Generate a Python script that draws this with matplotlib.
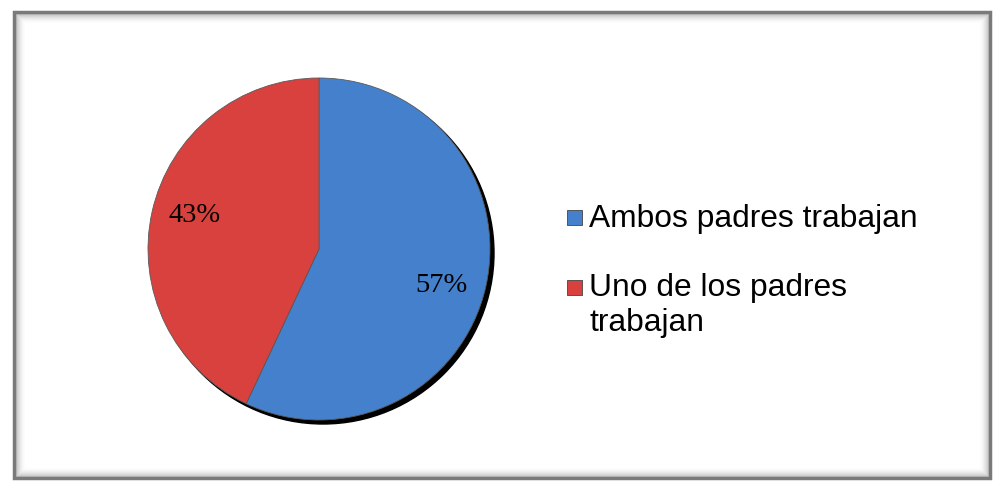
import matplotlib
matplotlib.use("Agg")
import matplotlib.pyplot as plt
from matplotlib.patches import Rectangle, Circle

categories = ["Ambos padres trabajan", "Uno de los padres\ntrabajan"]
values = [57, 43]
colors = ["#4580cc", "#d8413d"]

W, H = 997, 486
fig = plt.figure(figsize=(W / 100, H / 100), dpi=100)
ax = fig.add_axes([0, 0, 1, 1])

# frame with soft inner shadow
x0, y0, x1, y1 = 14, 8, 990, 474
for i in range(12):
    a = 0.25 * (1 - i / 12) ** 2
    ax.add_patch(Rectangle((x0 + i, y0 + i), (x1 - x0) - 2 * i, (y1 - y0) - 2 * i,
                           fill=False, ec="black", lw=1.0, alpha=a, zorder=1))
ax.add_patch(Rectangle((x0, y0), x1 - x0, y1 - y0, fill=False, ec="#7a7a7a", lw=2.5, zorder=2))

cx, cy, r = 319, 237, 171
# pie shadow
ax.add_patch(Circle((cx + 4, cy - 4), r, color="black", zorder=2))
wedges, _ = ax.pie(values, colors=colors, startangle=90, counterclock=False,
                   center=(cx, cy), radius=r, frame=True,
                   wedgeprops=dict(edgecolor="#5a5a5a", linewidth=0.6))
for w in wedges:
    w.set_zorder(3)
ax.set_xlim(0, W)
ax.set_ylim(0, H)
ax.set_aspect("equal")
ax.axis("off")

label_pos = [(441, 201), (195, 271)]
for v, (lx, ly) in zip(values, label_pos):
    ax.text(lx, ly, f"{v}%", ha="center", va="center", fontsize=20.5,
            family="Liberation Serif", color="black", zorder=5)

# legend
leg_y = [268, 199]
for cat, col, ty in zip(categories, colors, leg_y):
    ax.add_patch(Rectangle((567, ty - 7.5), 15, 15, fc=col, ec="#444444", lw=0.6, zorder=5))
    ax.text(589, ty + 14, cat, ha="left", va="top", fontsize=22.9,
            family="Liberation Sans", color="black", linespacing=1.22, zorder=5)

fig.savefig("out.png", dpi=100)
